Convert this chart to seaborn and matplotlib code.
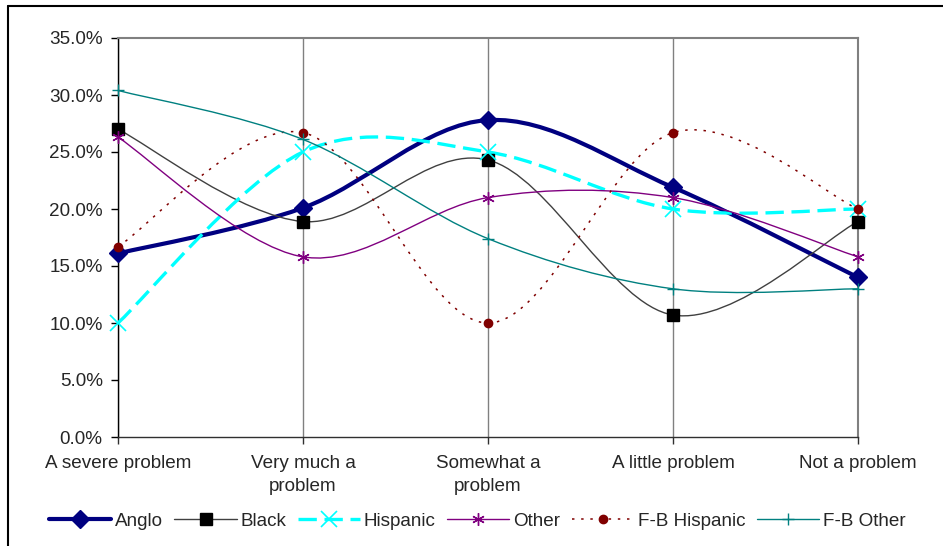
import numpy as np
import pandas as pd
import seaborn as sns
import matplotlib
matplotlib.use("Agg")
import matplotlib.pyplot as plt
from matplotlib.path import Path
from matplotlib.patches import PathPatch
from matplotlib.lines import Line2D
from matplotlib.ticker import FuncFormatter

# ---------------- data ----------------
categories = ["A severe problem", "Very much a\nproblem", "Somewhat a\nproblem",
              "A little problem", "Not a problem"]
series_names = ["Anglo", "Black", "Hispanic", "Other", "F-B Hispanic", "F-B Other"]
anglo = [16.1, 20.1, 27.8, 21.9, 14.0]
black = [27.0, 18.9, 24.3, 10.7, 18.9]
hispanic = [10.0, 25.0, 25.0, 20.0, 20.0]
other = [26.3, 15.8, 21.0, 21.0, 15.8]
fb_hispanic = [16.7, 26.7, 10.0, 26.7, 20.0]
fb_other = [30.4, 26.1, 17.4, 13.0, 13.0]
y_ticks = [0, 5, 10, 15, 20, 25, 30, 35]

values = [anglo, black, hispanic, other, fb_hispanic, fb_other]

# ---------------- styles ----------------
styles = {
    "Anglo": dict(color="#000080", lw=3.0, ls="-", marker="D", ms=9, mfc="#000080", mec="#000080", mew=1),
    "Black": dict(color="#404040", lw=1.0, ls="-", marker="s", ms=9, mfc="black", mec="black", mew=1),
    "Hispanic": dict(color="#00FFFF", lw=2.4, ls=(0, (5.5, 2.3)), marker="x", ms=11, mfc="#00FFFF", mec="#00FFFF", mew=1.2),
    "Other": dict(color="#800080", lw=1.0, ls="-", marker=(6, 2, 0), ms=9, mfc="#800080", mec="#800080", mew=1.0),
    "F-B Hispanic": dict(color="#800000", lw=1.1, ls=(0, (1.6, 4.4)), marker="o", ms=6, mfc="#800000", mec="#800000", mew=1),
    "F-B Other": dict(color="#008080", lw=1.0, ls="-", marker="+", ms=8, mfc="#008080", mec="#008080", mew=1.0),
}

FS = 13.6

sns.set_style("white")
plt.rcParams["font.family"] = ["Liberation Sans", "DejaVu Sans"]
plt.rcParams["font.size"] = FS

fig = plt.figure(figsize=(9.43, 5.46), dpi=100)
W, H = 943, 546
ax = fig.add_axes([118 / W, (H - 437) / H, (858 - 118) / W, (437 - 38) / H])

xpos = np.arange(len(categories))


def smooth_path(xs, ys):
    """Excel-style smoothed line: cubic Bezier through the points."""
    pts = np.column_stack([xs, ys]).astype(float)
    n = len(pts)
    verts = [pts[0]]
    codes = [Path.MOVETO]
    for i in range(n - 1):
        p_prev = pts[i - 1] if i > 0 else pts[i]
        p0 = pts[i]
        p1 = pts[i + 1]
        p_next = pts[i + 2] if i + 2 < n else pts[i + 1]
        c1 = p0 + (p1 - p_prev) / 6.0
        c2 = p1 - (p_next - p0) / 6.0
        verts += [c1, c2, p1]
        codes += [Path.CURVE4] * 3
    return Path(verts, codes)


for name, vals in zip(series_names, values):
    st = styles[name]
    patch = PathPatch(smooth_path(xpos, vals), facecolor="none", edgecolor=st["color"],
                      lw=st["lw"], linestyle=st["ls"], zorder=3, capstyle="butt")
    ax.add_patch(patch)
    df = pd.DataFrame({"x": xpos, "y": vals})
    sns.lineplot(data=df, x="x", y="y", ax=ax, linestyle="none", marker=st["marker"],
                 markersize=st["ms"], markerfacecolor=st["mfc"], markeredgecolor=st["mec"],
                 markeredgewidth=st["mew"], color=st["color"], zorder=4, clip_on=False)

ax.set_xlim(0, len(categories) - 1)
ax.set_ylim(0, 35)
ax.set_yticks(y_ticks)
ax.yaxis.set_major_formatter(FuncFormatter(lambda v, p: f"{v:.1f}%"))
ax.set_xticks(xpos)
ax.set_xticklabels(categories, linespacing=1.45, va="top")
ax.set_xlabel("")
ax.set_ylabel("")

ax.grid(False)
for xv in xpos:
    ax.axvline(xv, color="#808080", lw=1.0, zorder=1)

for side in ["top", "right"]:
    ax.spines[side].set_color("#808080")
    ax.spines[side].set_linewidth(1.5)
ax.spines["left"].set_color("black")
ax.spines["left"].set_linewidth(1.0)
ax.spines["bottom"].set_color("#303030")
ax.spines["bottom"].set_linewidth(1.0)

ax.tick_params(axis="y", direction="out", length=5, width=1, color="black", pad=6,
               labelsize=FS, left=True)
ax.tick_params(axis="x", direction="out", length=5, width=1, color="#303030", pad=8,
               labelsize=FS, bottom=True)

# legend
handles = []
for name in series_names:
    st = styles[name]
    handles.append(Line2D([0], [0], color=st["color"], lw=st["lw"], linestyle=st["ls"],
                          marker=st["marker"], markersize=st["ms"], markerfacecolor=st["mfc"],
                          markeredgecolor=st["mec"], markeredgewidth=st["mew"]))
fig.legend(handles, series_names, loc="center", bbox_to_anchor=(0.506, 25 / H), ncol=6,
           frameon=False, handlelength=3.3, handletextpad=0.2, columnspacing=0.6,
           fontsize=FS, borderaxespad=0)

# chart border (cropped)
fig.add_artist(Line2D([8 / W, 1.0], [1 - 6 / H, 1 - 6 / H], color="black", lw=1.5,
                      transform=fig.transFigure))
fig.add_artist(Line2D([8 / W, 8 / W], [0.0, 1 - 6 / H], color="black", lw=1.5,
                      transform=fig.transFigure))

fig.savefig("out.png", dpi=100)
